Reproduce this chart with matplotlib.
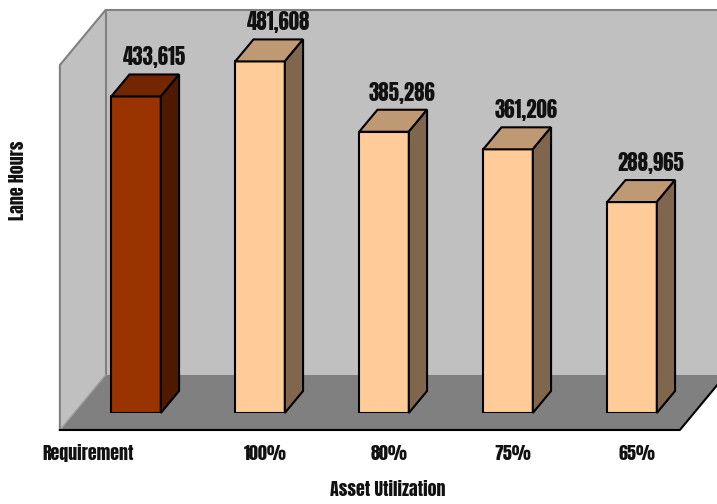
import matplotlib
matplotlib.use('Agg')
import matplotlib.pyplot as plt
from matplotlib.patches import Polygon
from matplotlib.lines import Line2D
from matplotlib.transforms import IdentityTransform

categories = ['Requirement', '100%', '80%', '75%', '65%']
lane_hours = [433615, 481608, 385286, 361206, 288965]
value_labels = ['433,615', '481,608', '385,286', '361,206', '288,965']

front_colors = ['#993300', '#FFCC99', '#FFCC99', '#FFCC99', '#FFCC99']
top_colors = ['#732600', '#BF9973', '#BF9973', '#BF9973', '#BF9973']
side_colors = ['#4D1A00', '#80664D', '#80664D', '#80664D', '#80664D']

FONT = ['Anton', 'Liberation Sans', 'DejaVu Sans']
VALUE_SIZE = 15
LABEL_SIZE = 13

W, H, DPI = 717, 504, 100
fig = plt.figure(figsize=(W / DPI, H / DPI), dpi=DPI)
fig.patch.set_facecolor('white')
ax = fig.add_axes([74 / W, 91 / H, 620 / W, 365 / H])
ax.set_xlim(-0.5, len(categories) - 0.5)
ax.set_ylim(0, 500000)
ax.axis('off')

SLANT = 0.83       # horizontal shift per pixel of depth
BAR_DEPTH = 22     # depth of each bar, pixels
WALL_DEPTH = 38    # back wall behind bar fronts, pixels
FLOOR_FRONT = -17  # front edge of floor, pixels
BAR_W = 0.4


def proj(x, y, d):
    px, py = ax.transData.transform((x, y))
    return (px + SLANT * d, py + d)


def face(points, **kw):
    p = Polygon(points, closed=True, transform=IdentityTransform(),
                clip_on=False, **kw)
    ax.add_patch(p)


def edge(points, **kw):
    xs = [p[0] for p in points]
    ys = [p[1] for p in points]
    ln = Line2D(xs, ys, transform=IdentityTransform(), clip_on=False, **kw)
    ax.add_line(ln)


x0, x1 = -0.5, len(categories) - 0.5
ymax = ax.get_ylim()[1]

# back wall
face([proj(x0, 0, WALL_DEPTH), proj(x1, 0, WALL_DEPTH),
      proj(x1, ymax, WALL_DEPTH), proj(x0, ymax, WALL_DEPTH)],
     facecolor='#C0C0C0', edgecolor='none', zorder=0)
# left wall
face([proj(x0, 0, FLOOR_FRONT), proj(x0, 0, WALL_DEPTH),
      proj(x0, ymax, WALL_DEPTH), proj(x0, ymax, FLOOR_FRONT)],
     facecolor='#C0C0C0', edgecolor='none', zorder=0)
# floor
face([proj(x0, 0, FLOOR_FRONT), proj(x1, 0, FLOOR_FRONT),
      proj(x1, 0, WALL_DEPTH), proj(x0, 0, WALL_DEPTH)],
     facecolor='#808080', edgecolor='none', zorder=0.1)

grey = dict(color='#808080', lw=1.5, zorder=0.2)
edge([proj(x0, 0, FLOOR_FRONT), proj(x0, ymax, FLOOR_FRONT),
      proj(x0, ymax, WALL_DEPTH), proj(x1, ymax, WALL_DEPTH)], **grey)
edge([proj(x0, 0, WALL_DEPTH), proj(x0, ymax, WALL_DEPTH)], **grey)
edge([proj(x0, 0, FLOOR_FRONT), proj(x0, 0, WALL_DEPTH)],
     color='#A0A0A0', lw=1.0, zorder=0.2)
edge([proj(x0, 0, FLOOR_FRONT), proj(x1, 0, FLOOR_FRONT),
      proj(x1, 0, WALL_DEPTH)], color='black', lw=1.5, zorder=0.2)

# bars: front faces through ax.bar, top and side faces projected in depth
xs = list(range(len(categories)))
ax.bar(xs, lane_hours, width=BAR_W, color=front_colors,
       edgecolor='black', linewidth=1.5, zorder=2)
for i, v in enumerate(lane_hours):
    l, r = i - BAR_W / 2, i + BAR_W / 2
    face([proj(l, v, 0), proj(r, v, 0), proj(r, v, BAR_DEPTH),
          proj(l, v, BAR_DEPTH)],
         facecolor=top_colors[i], edgecolor='black', lw=1.5,
         joinstyle='miter', zorder=2)
    face([proj(r, 0, 0), proj(r, 0, BAR_DEPTH), proj(r, v, BAR_DEPTH),
          proj(r, v, 0)],
         facecolor=side_colors[i], edgecolor='black', lw=1.5,
         joinstyle='miter', zorder=2)
    ax.annotate(value_labels[i], xy=(i, v),
                xytext=(SLANT * BAR_DEPTH, BAR_DEPTH + 6),
                textcoords='offset pixels', ha='center', va='bottom',
                fontsize=VALUE_SIZE, family=FONT, color='#111111',
                annotation_clip=False, zorder=3)

# category labels along the floor
for i, c in enumerate(categories):
    ax.annotate(c, xy=(i, 0), xytext=(-2 if i == 0 else 5, -40),
                textcoords='offset pixels',
                ha='right' if i == 0 else 'center', va='center',
                fontsize=LABEL_SIZE, family=FONT, color='#111111',
                annotation_clip=False)

fig.text(17 / W, 1 - 180 / H, 'Lane Hours', rotation=90, ha='center',
         va='center', fontsize=LABEL_SIZE, family=FONT, color='#111111')
fig.text(388 / W, 1 - 490 / H, 'Asset Utilization', ha='center',
         va='center', fontsize=LABEL_SIZE, family=FONT, color='#111111')

fig.savefig('out.png', dpi=DPI)
